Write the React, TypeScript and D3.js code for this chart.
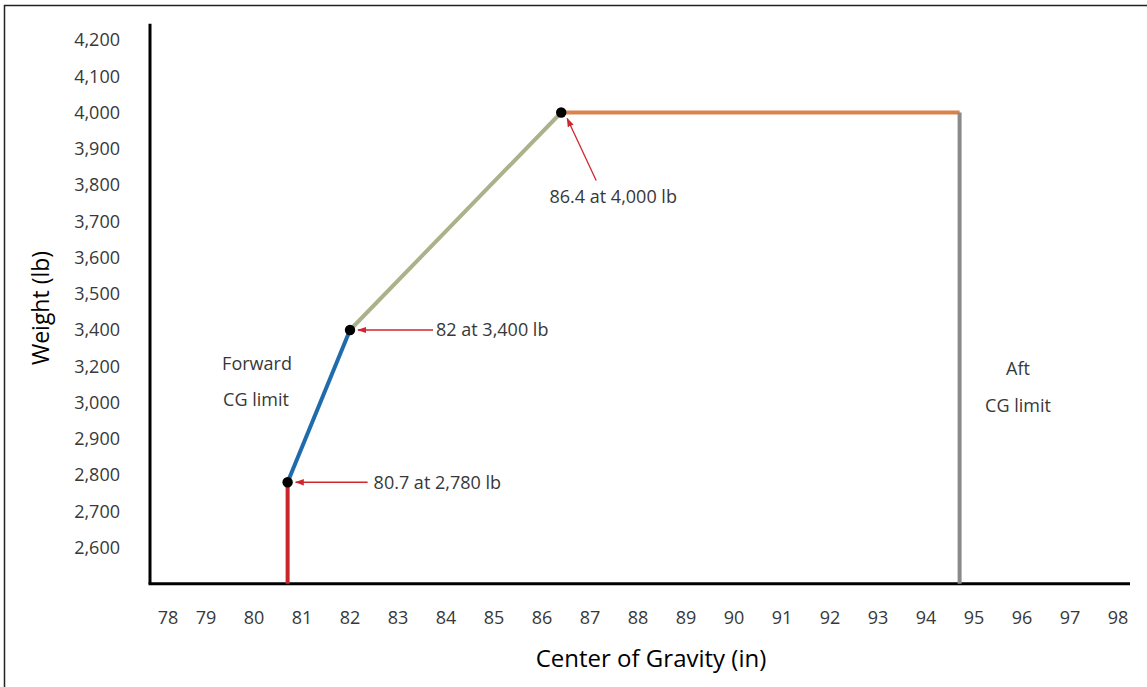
import React from "react";
import * as d3 from "d3";

const xTicks = [78, 79, 80, 81, 82, 83, 84, 85, 86, 87, 88, 89, 90, 91, 92, 93, 94, 95, 96, 97, 98];
const yTickWeights = [4200, 4100, 4000, 3900, 3800, 3700, 3600, 3500, 3400, 3200, 3000, 2900, 2800, 2700, 2600];
const yTickLabels = ["4,200", "4,100", "4,000", "3,900", "3,800", "3,700", "3,600", "3,500", "3,400", "3,200", "3,000", "2,900", "2,800", "2,700", "2,600"];

// envelope points (CG in, weight lb)
const fwdStart = { cg: 80.7, w: 2780 };
const fwdMid = { cg: 82, w: 3400 };
const fwdTop = { cg: 86.4, w: 4000 };
const aftCG = 94.7;
const maxWeight = 4000;

const annotations = [
  { cg: 82, w: 3400, text: "82 at 3,400 lb" },
  { cg: 80.7, w: 2780, text: "80.7 at 2,780 lb" },
  { cg: 86.4, w: 4000, text: "86.4 at 4,000 lb" },
];

const W = 1147;
const H = 687;

export default function App() {
  const x = d3.scaleLinear().domain([80, 98]).range([254, 1118]);
  const yTop = 40;
  const step = 36.25;
  const y = d3
    .scaleLinear()
    .domain(yTickWeights)
    .range(yTickWeights.map((_, i) => yTop + i * step));
  const axisX = 150;
  const axisBottom = yTop + 15 * step;
  const axisTop = yTop - 0.45 * step;
  const axisRight = 1130;

  const font = "'Open Sans', 'Noto Sans', sans-serif";
  const textColor = "#383838";
  const red = "#d0262d";

  const segs = [
    { a: [x(fwdStart.cg), y(fwdStart.w)], b: [x(fwdStart.cg), axisBottom], c: "#c8262d" },
    { a: [x(fwdStart.cg), y(fwdStart.w)], b: [x(fwdMid.cg), y(fwdMid.w)], c: "#1f6cad" },
    { a: [x(fwdMid.cg), y(fwdMid.w)], b: [x(fwdTop.cg), y(fwdTop.w)], c: "#aab28a" },
    { a: [x(fwdTop.cg), y(maxWeight)], b: [x(aftCG), y(maxWeight)], c: "#d9834c" },
    { a: [x(aftCG), y(maxWeight)], b: [x(aftCG), axisBottom], c: "#8a8a8a" },
  ];

  const a0 = annotations[0];
  const a1 = annotations[1];
  const a2 = annotations[2];

  return (
    <svg width={W} height={H} style={{ position: "absolute", left: 0, top: 0, background: "#fff" }}>
      <defs>
        <marker id="arr" viewBox="0 0 10 10" refX="9" refY="5" markerWidth="7" markerHeight="7" orient="auto">
          <path d="M0,1.5 L10,5 L0,8.5 Z" fill={red} />
        </marker>
      </defs>
      <rect x={0} y={0} width={W} height={H} fill="#fff" />
      <rect x={4.5} y={5.5} width={W + 10} height={H + 10} fill="none" stroke="#222" strokeWidth={1.5} />

      {/* axes */}
      <line x1={axisX} y1={axisTop} x2={axisX} y2={axisBottom} stroke="#000" strokeWidth={3} />
      <line x1={axisX - 1.5} y1={axisBottom} x2={axisRight} y2={axisBottom} stroke="#000" strokeWidth={3} />

      {/* y tick labels */}
      {yTickWeights.map((w, i) => (
        <text key={w} x={120} y={y(w)} dy="0.35em" textAnchor="end" fontFamily={font} fontSize={18} fill={textColor}>
          {yTickLabels[i]}
        </text>
      ))}
      {/* x tick labels */}
      {xTicks.map((t, i) => (
        <text key={t} x={x(t) + (i === 0 ? 10 : 0)} y={618} dy="0.35em" textAnchor="middle" fontFamily={font} fontSize={18} fill={textColor}>
          {t}
        </text>
      ))}

      {/* envelope */}
      {segs.map((s, i) => (
        <line key={i} x1={s.a[0]} y1={s.a[1]} x2={s.b[0]} y2={s.b[1]} stroke={s.c} strokeWidth={4} />
      ))}
      {[fwdStart, fwdMid, fwdTop].map((p, i) => (
        <circle key={i} cx={x(p.cg)} cy={y(p.w)} r={5.2} fill="#000" />
      ))}

      {/* annotations */}
      <line x1={x(a0.cg) + 83} y1={y(a0.w)} x2={x(a0.cg) + 8} y2={y(a0.w)} stroke={red} strokeWidth={1.3} markerEnd="url(#arr)" />
      <text x={x(a0.cg) + 86} y={y(a0.w)} dy="0.35em" fontFamily={font} fontSize={18} fill={textColor}>{a0.text}</text>

      <line x1={x(a1.cg) + 80} y1={y(a1.w)} x2={x(a1.cg) + 8} y2={y(a1.w)} stroke={red} strokeWidth={1.3} markerEnd="url(#arr)" />
      <text x={x(a1.cg) + 86} y={y(a1.w)} dy="0.35em" fontFamily={font} fontSize={18} fill={textColor}>{a1.text}</text>

      <line x1={x(a2.cg) + 35} y1={y(a2.w) + 68} x2={x(a2.cg) + 6} y2={y(a2.w) + 6} stroke={red} strokeWidth={1.3} markerEnd="url(#arr)" />
      <text x={x(a2.cg) + 52} y={y(a2.w) + 84} dy="0.35em" textAnchor="middle" fontFamily={font} fontSize={18} fill={textColor}>{a2.text}</text>

      {/* region labels */}
      <text x={257} y={364} dy="0.35em" textAnchor="middle" fontFamily={font} fontSize={18} fill={textColor}>Forward</text>
      <text x={256} y={400} dy="0.35em" textAnchor="middle" fontFamily={font} fontSize={18} fill={textColor}>CG limit</text>
      <text x={1018} y={369} dy="0.35em" textAnchor="middle" fontFamily={font} fontSize={18} fill={textColor}>Aft</text>
      <text x={1018} y={406} dy="0.35em" textAnchor="middle" fontFamily={font} fontSize={18} fill={textColor}>CG limit</text>

      {/* axis titles */}
      <text x={651} y={659} dy="0.35em" textAnchor="middle" fontFamily={font} fontSize={24} fill="#000">Center of Gravity (in)</text>
      <text transform={`translate(41,308) rotate(-90)`} dy="0.35em" textAnchor="middle" fontFamily={font} fontSize={23} fill="#000">Weight (lb)</text>
    </svg>
  );
}
